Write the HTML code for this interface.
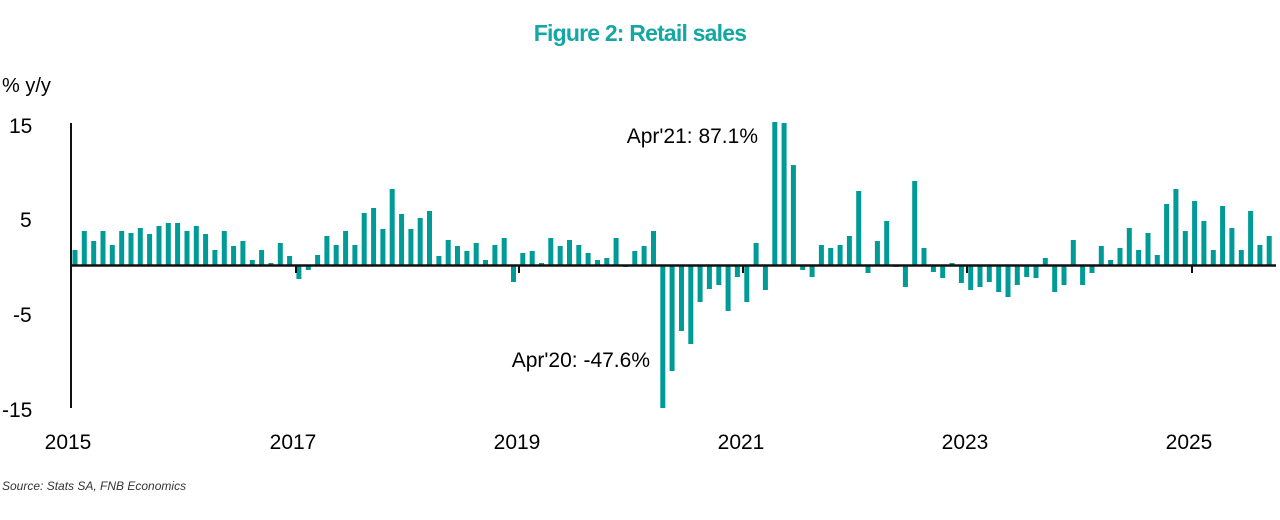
<!DOCTYPE html>
<html><head><meta charset="utf-8"><style>
html,body{margin:0;padding:0;background:#fff;width:1280px;height:520px;overflow:hidden}
svg{display:block}
text{font-family:"Liberation Sans",Arial,sans-serif}
</style></head><body>
<svg id="c" width="1280" height="520" xmlns="http://www.w3.org/2000/svg">
<text x="640" y="41" text-anchor="middle" font-size="23" font-weight="bold" fill="#14a7a5" letter-spacing="-0.8">Figure 2: Retail sales</text>
<text x="2" y="92" font-size="20" fill="#000">% y/y</text>
<text x="9" y="133" font-size="21" fill="#000">15</text>
<text x="20" y="227" font-size="21" fill="#000">5</text>
<text x="13" y="322" font-size="21" fill="#000">-5</text>
<text x="2" y="417" font-size="21" fill="#000">-15</text>
<g font-size="21" fill="#000" text-anchor="middle">
<text x="68" y="449">2015</text>
<text x="293" y="449">2017</text>
<text x="517" y="449">2019</text>
<text x="741" y="449">2021</text>
<text x="965" y="449">2023</text>
<text x="1189" y="449">2025</text>
</g>
<text x="758" y="143" font-size="21" fill="#000" text-anchor="end">Apr'21: 87.1%</text>
<text x="650" y="367" font-size="21" fill="#000" text-anchor="end">Apr'20: -47.6%</text>
<text x="2" y="490" font-size="12" font-style="italic" fill="#333">Source: Stats SA, FNB Economics</text>
<g id="bars" fill="#009b97"></g>
<line x1="71" y1="123" x2="71" y2="408" stroke="#111" stroke-width="2"/>
<line x1="70" y1="265.5" x2="1276" y2="265.5" stroke="#111" stroke-width="2.5"/>
<g stroke="#111" stroke-width="2">
<line x1="296" y1="265" x2="296" y2="273"/>
<line x1="519" y1="265" x2="519" y2="273"/>
<line x1="743" y1="265" x2="743" y2="273"/>
<line x1="967" y1="265" x2="967" y2="273"/>
<line x1="1192" y1="265" x2="1192" y2="273"/>
</g>
</svg>
<script>
var t=[250,231,241,231,245,231,233,228,234,226,223,223,231,226,234,250,231,246,241,260,250,263,243,256,279,270,255,236,245,231,245,213,208,229,189,214,229,218,211,256,240,246,251,243,
260,245,238,282,253,251,263,238,246,240,245,253,260,258,238,267,251,246,231,408,371,331,344,302,289,285,311,277,302,243,290,122,123,165,270,277,245,248,245,236,191,273,241,221,
267,287,181,248,272,278,263,283,290,287,282,292,297,285,277,278,258,292,285,240,285,273,246,260,248,228,250,233,255,204,189,231,201,221,250,206,228,250,211,245,236];
var g=document.getElementById('bars'),s='',z=265;
for(var i=0;i<t.length;i++){var x=75+9.33*i-2.5,y=t[i];var a=Math.min(y,z),h=Math.abs(y-z);if(h<1)h=1;
s+='<rect x="'+x.toFixed(1)+'" y="'+a+'" width="5" height="'+h+'"/>';}
g.innerHTML=s;
</script>
</body></html>
